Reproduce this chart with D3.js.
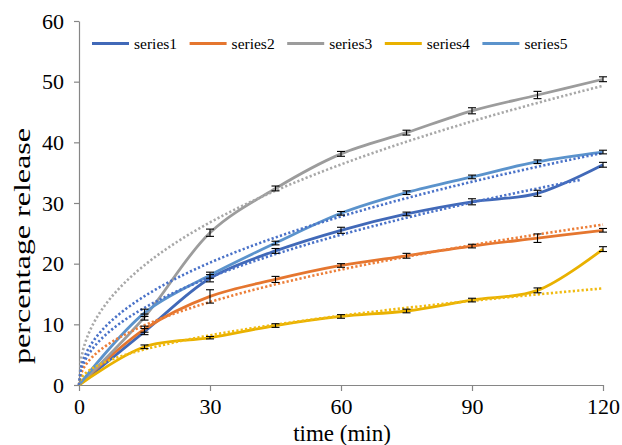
<!DOCTYPE html>
<html><head><meta charset="utf-8">
<script src="https://cdn.jsdelivr.net/npm/d3@7"></script>
<style>
html,body{margin:0;padding:0;background:#fff;}
svg{display:block;}
text{font-family:"Liberation Serif","Times New Roman",serif;fill:#000;}
</style></head>
<body>
<svg id="chart" width="622" height="445"></svg>
<script>
// ---- data ----
const times = [0, 15, 30, 45, 60, 75, 90, 105, 120];
const seriesNames = ["series1", "series2", "series3", "series4", "series5"];
const series1 = [0, 8.8, 17.6, 22.1, 25.5, 28.2, 30.2, 31.6, 36.3];
const series2 = [0, 9.2, 14.6, 17.4, 19.7, 21.3, 22.9, 24.2, 25.5];
const series3 = [0, 11.2, 25.1, 32.4, 38.1, 41.6, 45.2, 47.8, 50.4];
const series4 = [0, 6.3, 7.8, 9.8, 11.3, 12.2, 14.0, 15.6, 22.4];
const series5 = [0, 11.9, 18.1, 23.4, 28.3, 31.7, 34.3, 36.8, 38.4];
const errors1 = [0, 0.5, 0.6, 0.4, 0.5, 0.3, 0.5, 0.5, 0.4];
const errors2 = [0, 0.5, 1.1, 0.5, 0.3, 0.4, 0.3, 0.7, 0.3];
const errors3 = [0, 0.5, 0.6, 0.4, 0.4, 0.4, 0.5, 0.6, 0.4];
const errors4 = [0, 0.3, 0.2, 0.3, 0.3, 0.3, 0.3, 0.4, 0.4];
const errors5 = [0, 0.6, 0.5, 0.3, 0.3, 0.3, 0.3, 0.3, 0.3];
// power-law trend lines (y = a * t^n)
const trendCoef = [3.47, 2.72, 6.0, 1.6, 4.19];
const trendExp = [0.48, 0.475, 0.44, 0.48, 0.462];
const trendEnd = [115, 120, 120, 120, 120];
const xTicks = [0, 30, 60, 90, 120];
const yTicks = [0, 10, 20, 30, 40, 50, 60];
const xTitle = "time (min)";
const yTitle = "percentage release";

// ---- styles ----
const colors = ["#4169B8", "#E5762F", "#9C9C9C", "#E9B100", "#5B93CC"];
const trendColors = ["#4A72C8", "#EC7E38", "#A8A8A8", "#F0BA10", "#4A72C8"];

const allSeries = [series1, series2, series3, series4, series5];
const allErrors = [errors1, errors2, errors3, errors4, errors5];

const svg = d3.select("#chart");
const x = d3.scaleLinear().domain([0, 120]).range([79, 603]);
const y = d3.scaleLinear().domain([0, 60]).range([385, 21]);
const axisColor = "#868686";

// axes
const gx = svg.append("g").attr("transform", "translate(0,385)")
  .call(d3.axisBottom(x).tickValues(xTicks).tickSize(6).tickSizeOuter(0).tickPadding(6));
const gy = svg.append("g").attr("transform", "translate(79,0)")
  .call(d3.axisLeft(y).tickValues(yTicks).tickSize(5).tickSizeOuter(0).tickPadding(10));
[gx, gy].forEach(g => {
  g.attr("font-family", null);
  g.select(".domain").attr("stroke", axisColor).attr("stroke-width", 1.2);
  g.selectAll(".tick line").attr("stroke", axisColor).attr("stroke-width", 1.2);
  g.selectAll(".tick text").attr("font-size", 22).attr("fill", "#000");
});
gx.selectAll(".tick text").attr("dy", "0.76em");

// axis titles
svg.append("text").attr("x", (x(0) + x(120)) / 2 + 1).attr("y", 441)
  .attr("text-anchor", "middle").attr("font-size", 23).text(xTitle);
svg.append("text").attr("transform", "translate(30,246) rotate(-90)")
  .attr("text-anchor", "middle").attr("font-size", 24)
  .attr("textLength", 236).attr("lengthAdjust", "spacingAndGlyphs").text(yTitle);

// solid smoothed lines
const line = d3.line().x((d, i) => x(times[i])).y(d => y(d)).curve(d3.curveCatmullRom.alpha(0.5));
const plot = svg.append("g");
allSeries.forEach((s, k) => {
  plot.append("path").datum(s).attr("d", line).attr("fill", "none")
    .attr("stroke", colors[k]).attr("stroke-width", 2.8).attr("stroke-linejoin", "round");
});
// trend lines (dotted)
allSeries.forEach((s, k) => {
  const ts = d3.range(0, trendEnd[k] + 0.001, 0.5);
  const tl = d3.line().x(t => x(t)).y(t => y(trendCoef[k] * Math.pow(t, trendExp[k])));
  plot.append("path").datum(ts).attr("d", tl).attr("fill", "none")
    .attr("stroke", trendColors[k]).attr("stroke-width", 2.6)
    .attr("stroke-dasharray", "2.2 2.2");
});
// error bars
allSeries.forEach((s, k) => {
  const g = plot.append("g");
  s.forEach((v, i) => {
    const e = allErrors[k][i];
    if (e <= 0) return;
    const cx = x(times[i]);
    g.append("line").attr("x1", cx).attr("x2", cx).attr("y1", y(v - e)).attr("y2", y(v + e))
      .attr("stroke", "#000").attr("stroke-width", 1.1);
    [v - e, v + e].forEach(b => g.append("line").attr("x1", cx - 4).attr("x2", cx + 4)
      .attr("y1", y(b)).attr("y2", y(b)).attr("stroke", "#000").attr("stroke-width", 1.1));
  });
});

// legend
const legend = svg.append("g");
seriesNames.forEach((name, k) => {
  const lx = 92 + k * 97.6;
  legend.append("line").attr("x1", lx).attr("x2", lx + 37).attr("y1", 43.5).attr("y2", 43.5)
    .attr("stroke", colors[k]).attr("stroke-width", 3);
  legend.append("text").attr("x", lx + 42).attr("y", 48.5).attr("font-size", 15.5).text(name);
});
</script>
</body></html>
